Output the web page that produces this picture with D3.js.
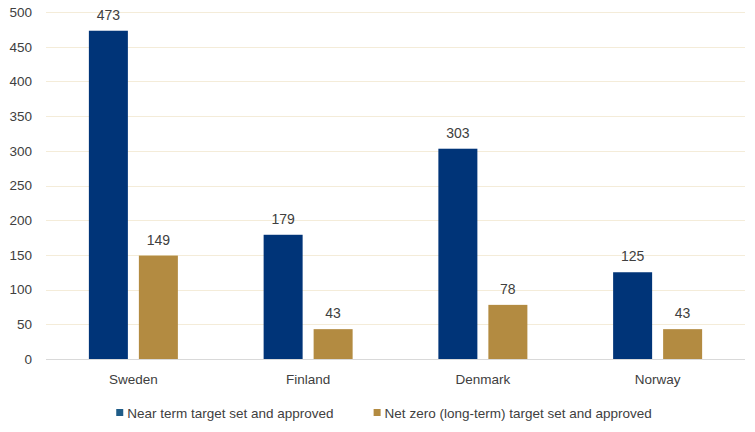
<!DOCTYPE html>
<html>
<head>
<meta charset="utf-8">
<script src="https://cdn.jsdelivr.net/npm/d3@7"></script>
<style>
  body { margin: 0; background: #fff; }
  text { font-family: "Liberation Sans", Arial, sans-serif; fill: #404040; }
</style>
</head>
<body>
<div id="chart"></div>
<script>
  // data
  var countries = ["Sweden", "Finland", "Denmark", "Norway"];
  var nearTerm = [473, 179, 303, 125];
  var netZero = [149, 43, 78, 43];
  var seriesNames = ["Near term target set and approved", "Net zero (long-term) target set and approved"];
  var yTicks = [0, 50, 100, 150, 200, 250, 300, 350, 400, 450, 500];

  var width = 755, height = 432;
  var margin = {top: 12, right: 10, bottom: 73, left: 46};
  var barColors = ["#003478", "#b38b41"];
  var swatchColors = ["#1f5c88", "#b38b41"];

  var svg = d3.select("#chart").append("svg")
    .attr("width", width)
    .attr("height", height);

  var x = d3.scaleBand()
    .domain(countries)
    .range([margin.left, width - margin.right]);

  var y = d3.scaleLinear()
    .domain([0, 500])
    .range([height - margin.bottom, margin.top]);

  // gridlines
  svg.append("g").selectAll("line")
    .data(yTicks.filter(function(d) { return d > 0; }))
    .join("line")
    .attr("x1", margin.left)
    .attr("x2", width - margin.right)
    .attr("y1", function(d) { return Math.round(y(d)) + 0.5; })
    .attr("y2", function(d) { return Math.round(y(d)) + 0.5; })
    .attr("stroke", "#f4ecd9")
    .attr("stroke-width", 1);

  // y tick labels
  var yAxis = svg.append("g")
    .attr("transform", `translate(${margin.left},0)`)
    .call(d3.axisLeft(y).tickValues(yTicks).tickSize(0).tickPadding(14));
  yAxis.select(".domain").remove();
  yAxis.selectAll("text")
    .attr("font-size", "13.5px")
    .attr("font-family", "Liberation Sans, Arial, sans-serif")
    .attr("fill", "#404040");

  // bars
  var barW = 39, gap = 11;
  var rows = countries.map(function(c, i) {
    return {country: c, values: [nearTerm[i], netZero[i]]};
  });

  var groups = svg.append("g").selectAll("g")
    .data(rows)
    .join("g")
    .attr("transform", function(d) {
      return `translate(${x(d.country) + x.bandwidth() / 2 - barW - gap / 2},0)`;
    });

  groups.selectAll("rect")
    .data(function(d) { return d.values; })
    .join("rect")
    .attr("x", function(d, i) { return i * (barW + gap); })
    .attr("y", function(d) { return y(d); })
    .attr("width", barW)
    .attr("height", function(d) { return y(0) - y(d); })
    .attr("fill", function(d, i) { return barColors[i]; });

  groups.selectAll("text")
    .data(function(d) { return d.values; })
    .join("text")
    .attr("x", function(d, i) { return i * (barW + gap) + barW / 2; })
    .attr("y", function(d) { return y(d) - 11; })
    .attr("text-anchor", "middle")
    .attr("font-size", "14px")
    .text(function(d) { return d; });

  // baseline
  svg.append("line")
    .attr("x1", margin.left)
    .attr("x2", width - margin.right)
    .attr("y1", y(0) + 0.5)
    .attr("y2", y(0) + 0.5)
    .attr("stroke", "#d9d9d9")
    .attr("stroke-width", 1.2);

  // category labels
  svg.append("g").selectAll("text")
    .data(countries)
    .join("text")
    .attr("x", function(d) { return x(d) + x.bandwidth() / 2; })
    .attr("y", 384)
    .attr("text-anchor", "middle")
    .attr("font-size", "13.5px")
    .text(function(d) { return d; });

  // legend
  var legend = svg.append("g");
  var items = legend.selectAll("g")
    .data(seriesNames)
    .join("g");
  items.append("rect")
    .attr("width", 7)
    .attr("height", 7)
    .attr("y", 409)
    .attr("fill", function(d, i) { return swatchColors[i]; });
  items.append("text")
    .attr("x", 11)
    .attr("y", 418)
    .attr("font-size", "13.5px")
    .text(function(d) { return d; });

  var widths = [];
  items.each(function() { widths.push(this.getBBox().width); });
  var spacing = 40;
  var total = d3.sum(widths) + spacing * (widths.length - 1);
  var start = 384 - total / 2;
  items.attr("transform", function(d, i) {
    var off = start + d3.sum(widths.slice(0, i)) + spacing * i;
    return `translate(${off},0)`;
  });
</script>
</body>
</html>
